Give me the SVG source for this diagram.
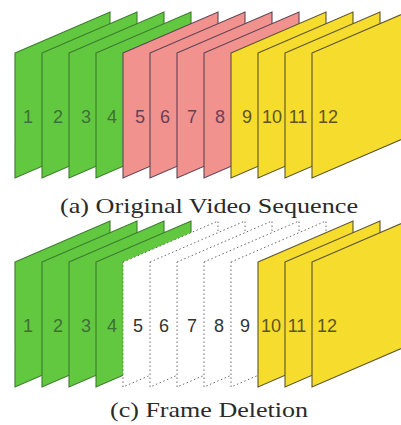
<svg xmlns="http://www.w3.org/2000/svg" xmlns:xlink="http://www.w3.org/1999/xlink" width="401" height="425" viewBox="0 0 401 425">
<style>
.g{fill:#62c83f;stroke:#3d7a30;stroke-width:1.1}
.p{fill:#f2928e;stroke:#5e4456;stroke-width:1.1}
.y{fill:#f6dc2c;stroke:#5a5430;stroke-width:1.1}
.d{fill:#ffffff;stroke:#6a6a6a;stroke-width:1;stroke-dasharray:1.5 2.5}
.n{font-family:"Liberation Sans",Arial,sans-serif;font-size:18px;text-anchor:middle}
.ng{fill:#3f6f3a}
.np{fill:#6a4058}
.ny{fill:#5e5420}
.nd{fill:#333333}
.cap{font-family:"Liberation Serif","Times New Roman",serif;font-size:22px;fill:#2a2a2a}
</style>
<defs>
<polygon id="fr" points="0,53 95,12 95,137 0,178"/>
</defs>
<g id="row-a">
<g id="a1"><use xlink:href="#fr" x="15" y="0" class="g"/><text class="n ng" x="28" y="123">1</text></g>
<g id="a2"><use xlink:href="#fr" x="42" y="0" class="g"/><text class="n ng" x="58" y="123">2</text></g>
<g id="a3"><use xlink:href="#fr" x="69" y="0" class="g"/><text class="n ng" x="86" y="123">3</text></g>
<g id="a4"><use xlink:href="#fr" x="96" y="0" class="g"/><text class="n ng" x="112" y="123">4</text></g>
<g id="a5"><use xlink:href="#fr" x="123" y="0" class="p"/><text class="n np" x="140" y="123">5</text></g>
<g id="a6"><use xlink:href="#fr" x="150" y="0" class="p"/><text class="n np" x="165" y="123">6</text></g>
<g id="a7"><use xlink:href="#fr" x="177" y="0" class="p"/><text class="n np" x="192" y="123">7</text></g>
<g id="a8"><use xlink:href="#fr" x="204" y="0" class="p"/><text class="n np" x="220" y="123">8</text></g>
<g id="a9"><use xlink:href="#fr" x="231" y="0" class="y"/><text class="n ny" x="247" y="123">9</text></g>
<g id="a10"><use xlink:href="#fr" x="258" y="0" class="y"/><text class="n ny" x="272" y="123">10</text></g>
<g id="a11"><use xlink:href="#fr" x="285" y="0" class="y"/><text class="n ny" x="298" y="123">11</text></g>
<g id="a12"><use xlink:href="#fr" x="312" y="0" class="y"/><text class="n ny" x="328" y="123">12</text></g>
</g>
<text id="caption-a" class="cap" x="60" y="213" textLength="298" lengthAdjust="spacingAndGlyphs">(a) Original Video Sequence</text>
<g id="row-c">
<g id="c1"><use xlink:href="#fr" x="15" y="209" class="g"/><text class="n ng" x="28" y="332">1</text></g>
<g id="c2"><use xlink:href="#fr" x="42" y="209" class="g"/><text class="n ng" x="58" y="332">2</text></g>
<g id="c3"><use xlink:href="#fr" x="69" y="209" class="g"/><text class="n ng" x="86" y="332">3</text></g>
<g id="c4"><use xlink:href="#fr" x="96" y="209" class="g"/><text class="n ng" x="112" y="332">4</text></g>
<g id="c5"><use xlink:href="#fr" x="123" y="209" class="d"/><text class="n nd" x="138" y="332">5</text></g>
<g id="c6"><use xlink:href="#fr" x="150" y="209" class="d"/><text class="n nd" x="164" y="332">6</text></g>
<g id="c7"><use xlink:href="#fr" x="177" y="209" class="d"/><text class="n nd" x="192" y="332">7</text></g>
<g id="c8"><use xlink:href="#fr" x="204" y="209" class="d"/><text class="n nd" x="219" y="332">8</text></g>
<g id="c9"><use xlink:href="#fr" x="231" y="209" class="d"/><text class="n nd" x="245" y="332">9</text></g>
<g id="c10"><use xlink:href="#fr" x="258" y="209" class="y"/><text class="n ny" x="271" y="332">10</text></g>
<g id="c11"><use xlink:href="#fr" x="285" y="209" class="y"/><text class="n ny" x="297" y="332">11</text></g>
<g id="c12"><use xlink:href="#fr" x="312" y="209" class="y"/><text class="n ny" x="327" y="332">12</text></g>
</g>
<text id="caption-c" class="cap" x="110" y="417" textLength="198" lengthAdjust="spacingAndGlyphs">(c) Frame Deletion</text>
</svg>
